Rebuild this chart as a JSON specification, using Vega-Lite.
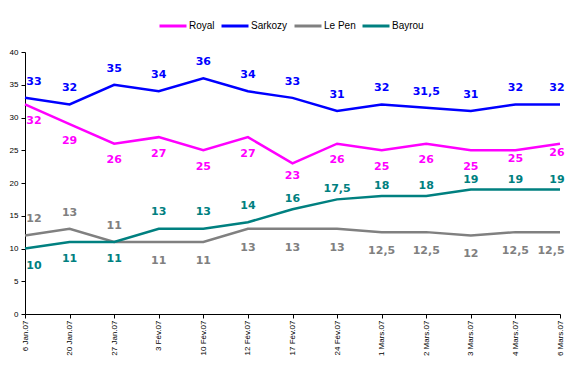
{
  "$schema": "https://vega.github.io/schema/vega-lite/v6.json",
  "width": 535,
  "height": 262,
  "autosize": {"type": "none"},
  "padding": {"left": 25, "top": 52, "right": 15, "bottom": 57},
  "background": "white",
  "config": {
    "view": {"stroke": null},
    "locale": {"number": {"decimal": ",", "thousands": " ", "grouping": [3], "currency": ["", " €"]}},
    "axis": {"domainColor": "black", "tickColor": "black", "labelColor": "black", "labelFont": "Liberation Sans", "labelFontSize": 8, "grid": false, "title": null, "tickSize": 4, "domainWidth": 1, "tickWidth": 1}
  },
  "data": {"values": [
    {"date": "6 Jan.07", "serie": "Royal", "value": 32},
    {"date": "20 Jan.07", "serie": "Royal", "value": 29},
    {"date": "27 Jan.07", "serie": "Royal", "value": 26},
    {"date": "3 Fév.07", "serie": "Royal", "value": 27},
    {"date": "10 Fév.07", "serie": "Royal", "value": 25},
    {"date": "12 Fév.07", "serie": "Royal", "value": 27},
    {"date": "17 Fév.07", "serie": "Royal", "value": 23},
    {"date": "24 Fév.07", "serie": "Royal", "value": 26},
    {"date": "1 Mars.07", "serie": "Royal", "value": 25},
    {"date": "2 Mars.07", "serie": "Royal", "value": 26},
    {"date": "3 Mars.07", "serie": "Royal", "value": 25},
    {"date": "4 Mars.07", "serie": "Royal", "value": 25},
    {"date": "6 Mars.07", "serie": "Royal", "value": 26},
    {"date": "6 Jan.07", "serie": "Sarkozy", "value": 33},
    {"date": "20 Jan.07", "serie": "Sarkozy", "value": 32},
    {"date": "27 Jan.07", "serie": "Sarkozy", "value": 35},
    {"date": "3 Fév.07", "serie": "Sarkozy", "value": 34},
    {"date": "10 Fév.07", "serie": "Sarkozy", "value": 36},
    {"date": "12 Fév.07", "serie": "Sarkozy", "value": 34},
    {"date": "17 Fév.07", "serie": "Sarkozy", "value": 33},
    {"date": "24 Fév.07", "serie": "Sarkozy", "value": 31},
    {"date": "1 Mars.07", "serie": "Sarkozy", "value": 32},
    {"date": "2 Mars.07", "serie": "Sarkozy", "value": 31.5},
    {"date": "3 Mars.07", "serie": "Sarkozy", "value": 31},
    {"date": "4 Mars.07", "serie": "Sarkozy", "value": 32},
    {"date": "6 Mars.07", "serie": "Sarkozy", "value": 32},
    {"date": "6 Jan.07", "serie": "Le Pen", "value": 12},
    {"date": "20 Jan.07", "serie": "Le Pen", "value": 13},
    {"date": "27 Jan.07", "serie": "Le Pen", "value": 11},
    {"date": "3 Fév.07", "serie": "Le Pen", "value": 11},
    {"date": "10 Fév.07", "serie": "Le Pen", "value": 11},
    {"date": "12 Fév.07", "serie": "Le Pen", "value": 13},
    {"date": "17 Fév.07", "serie": "Le Pen", "value": 13},
    {"date": "24 Fév.07", "serie": "Le Pen", "value": 13},
    {"date": "1 Mars.07", "serie": "Le Pen", "value": 12.5},
    {"date": "2 Mars.07", "serie": "Le Pen", "value": 12.5},
    {"date": "3 Mars.07", "serie": "Le Pen", "value": 12},
    {"date": "4 Mars.07", "serie": "Le Pen", "value": 12.5},
    {"date": "6 Mars.07", "serie": "Le Pen", "value": 12.5},
    {"date": "6 Jan.07", "serie": "Bayrou", "value": 10},
    {"date": "20 Jan.07", "serie": "Bayrou", "value": 11},
    {"date": "27 Jan.07", "serie": "Bayrou", "value": 11},
    {"date": "3 Fév.07", "serie": "Bayrou", "value": 13},
    {"date": "10 Fév.07", "serie": "Bayrou", "value": 13},
    {"date": "12 Fév.07", "serie": "Bayrou", "value": 14},
    {"date": "17 Fév.07", "serie": "Bayrou", "value": 16},
    {"date": "24 Fév.07", "serie": "Bayrou", "value": 17.5},
    {"date": "1 Mars.07", "serie": "Bayrou", "value": 18},
    {"date": "2 Mars.07", "serie": "Bayrou", "value": 18},
    {"date": "3 Mars.07", "serie": "Bayrou", "value": 19},
    {"date": "4 Mars.07", "serie": "Bayrou", "value": 19},
    {"date": "6 Mars.07", "serie": "Bayrou", "value": 19}
  ]},
  "encoding": {
    "x": {"field": "date", "type": "ordinal", "sort": null,
      "scale": {"type": "point", "padding": 0},
      "axis": {"labelAngle": -90, "labelPadding": 2, "labelAlign": "right", "labelBaseline": "middle"}},
    "y": {"field": "value", "type": "quantitative",
      "scale": {"domain": [0, 40], "nice": false, "zero": true},
      "axis": {"values": [0, 5, 10, 15, 20, 25, 30, 35, 40], "labelPadding": 3}},
    "color": {"field": "serie", "type": "nominal",
      "scale": {"domain": ["Royal", "Sarkozy", "Le Pen", "Bayrou"], "range": ["#FF00FF", "#0000FF", "#808080", "#008080"]},
      "legend": {"title": null, "orient": "none", "direction": "horizontal", "legendX": 133, "legendY": -41,
        "symbolType": "stroke", "symbolSize": 729, "symbolStrokeWidth": 3, "labelFont": "Liberation Sans", "labelFontSize": 10, "labelColor": "black", "labelOffset": 1, "columnPadding": 0, "symbolOffset": 0}}
  },
  "layer": [
    {"mark": {"type": "line", "strokeWidth": 2.5, "interpolate": "linear"}},
    {"mark": {"type": "text", "font": "DejaVu Sans", "fontWeight": "bold", "fontSize": 11, "baseline": "middle",
      "dy": {"expr": "datum.serie == 'Sarkozy' ? -16 : datum.serie == 'Royal' ? ((datum.date == '4 Mars.07' || datum.date == '6 Mars.07') ? 9 : datum.date == '17 Fév.07' ? 13 : 16.5) : datum.serie == 'Le Pen' ? (indexof(['6 Jan.07','20 Jan.07','27 Jan.07'], datum.date) >= 0 ? -16 : 19) : (indexof(['6 Jan.07','20 Jan.07','27 Jan.07'], datum.date) >= 0 ? 17 : indexof(['3 Fév.07','10 Fév.07','12 Fév.07'], datum.date) >= 0 ? -16.5 : -10)"},
      "dx": {"expr": "datum.date == '6 Jan.07' ? 9 : datum.date == '6 Mars.07' ? (datum.serie == 'Le Pen' ? -9 : -3) : 0"}},
     "encoding": {"text": {"field": "value", "type": "quantitative", "format": ".1~f"}}}
  ]
}
